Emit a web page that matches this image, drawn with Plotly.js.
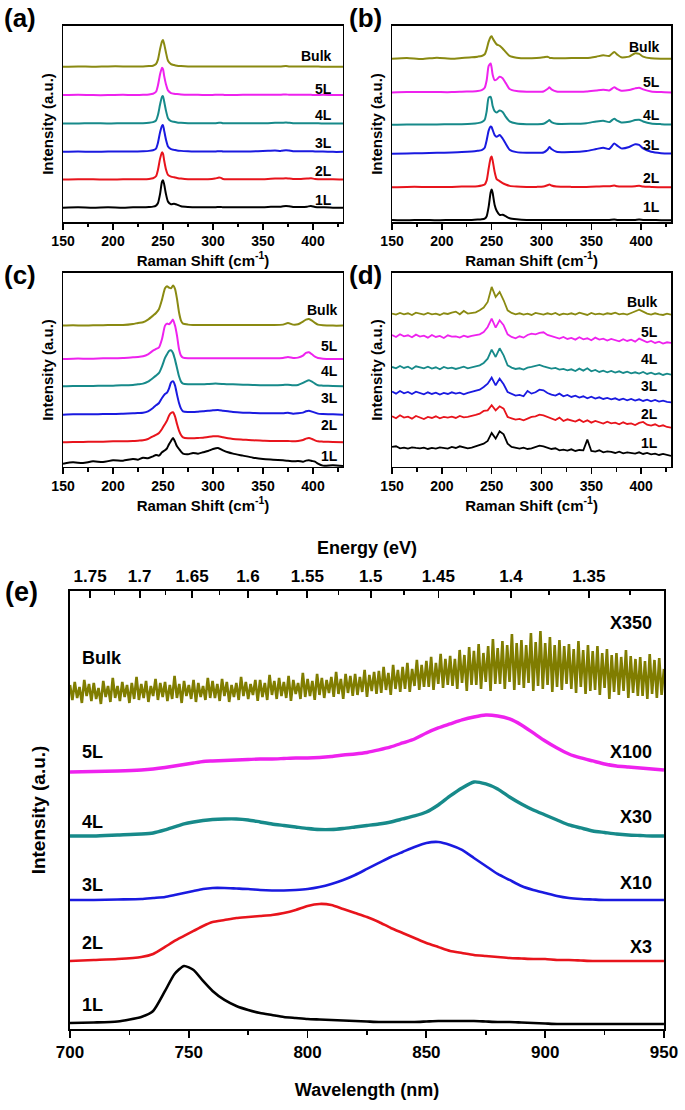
<!DOCTYPE html>
<html><head><meta charset="utf-8">
<script src="https://cdn.plot.ly/plotly-3.0.1.min.js"></script>
<style>html,body{margin:0;padding:0;background:#fff}</style>
</head><body>
<div id="chart" style="width:685px;height:1110px"></div>
<script>
// ---------- shared ----------
const layerNames = ['1L','2L','3L','4L','5L','Bulk'];
const layerColors = ['#000000','#e8141c','#1a1ae0','#178a8a','#ee22ee','#8a8a12'];

// ---------- (a) & (b): Raman shift grid ----------
const ramanShiftAB = [150,165,180,195,210,220,230,236,240,243,245,247,249,250,251,253,255,258,261,264,268,275,285,295,302,306,308,310,315,330,345,355,362,368,373,376,380,388,394,398,402,410,420,430];
// (a) relative intensities
const a_1L   = [0,1,0,1,0,1,1,2,3,6,14,40,78,82,72,40,18,10,12,9,4,2,1,1,1,2,2,1,1,1,1,2,3,3,5,4,2,2,3,5,2,1,0,0];
const a_2L   = [0,1,1,0,1,1,1,2,4,10,30,62,82,78,60,30,14,9,7,5,3,1,1,1,3,6,5,2,1,1,1,2,3,3,4,3,2,2,3,4,2,1,1,0];
const a_3L   = [0,1,0,1,1,1,2,3,5,10,28,58,78,80,66,36,16,8,6,4,3,2,1,1,1,2,2,1,1,1,2,3,4,3,5,4,2,2,2,2,1,1,0,0];
const a_4L   = [0,0,1,0,1,1,1,2,4,9,26,56,80,82,68,38,16,7,5,3,2,1,1,1,1,2,2,1,1,1,1,1,2,2,3,2,1,1,1,1,1,0,0,0];
const a_5L   = [0,1,0,0,1,0,1,2,4,10,30,62,82,78,60,32,14,6,4,3,2,1,1,0,1,1,1,1,0,1,1,1,1,1,2,1,1,1,1,1,0,1,0,0];
const a_Bulk = [0,1,0,1,1,1,1,2,3,8,22,52,76,80,70,42,18,8,5,3,2,1,1,1,1,1,1,1,1,1,1,1,1,1,2,1,1,1,1,1,1,0,0,0];
const a_offsets = [43,127,210,295,380,465];
const a_labelY  = [67,153,237,320,397,497];

// (b) relative intensities
const b_1L   = [1,0,1,0,1,1,1,2,3,5,12,40,82,90,80,45,28,16,16,12,6,3,1,1,1,1,1,1,1,1,1,1,1,1,2,1,1,1,1,2,1,1,0,0];
const b_2L   = [0,1,1,1,1,2,2,3,5,8,20,55,86,90,78,45,24,18,12,8,4,2,1,1,2,6,8,5,2,1,1,2,3,3,5,3,2,2,3,4,2,1,0,0];
const b_3L   = [0,1,2,3,4,5,7,9,11,18,40,68,80,78,70,55,50,55,45,30,12,5,3,3,4,12,20,14,6,5,8,14,18,14,30,24,16,20,28,26,16,6,2,1];
const b_4L   = [0,1,1,1,2,2,3,5,8,15,40,80,82,72,55,40,36,42,38,24,10,4,2,2,3,10,14,8,3,3,5,10,12,8,18,12,7,9,14,15,10,4,2,1];
const b_5L   = [0,1,1,1,1,2,3,4,7,14,36,78,85,72,52,36,38,46,42,28,10,4,2,2,3,10,15,9,3,2,3,6,8,6,15,10,5,7,12,14,9,3,1,0];
const b_Bulk = [2,4,1,5,2,4,6,8,10,15,30,52,66,68,62,52,44,40,32,22,10,5,3,4,6,8,5,4,3,4,4,8,12,10,22,14,6,8,18,16,8,3,2,2];
const b_offsets = [5,102,200,285,380,477];
const b_labelY  = [45,130,225,315,412,512];

// ---------- (c) ----------
const ramanShiftC = [150,160,170,180,190,200,210,220,225,230,235,240,243,246,249,252,254,256,258,260,262,264,266,268,270,275,280,285,290,295,300,305,310,315,320,330,340,350,360,370,375,380,385,390,393,396,399,402,405,410,420,430];
const c_1L   = [0,4,2,7,5,10,9,14,12,18,16,22,26,24,34,40,46,58,68,77,66,52,44,36,30,28,32,30,34,38,44,47,40,34,30,24,18,14,12,10,9,7,8,6,9,10,8,6,0,-6,-5,-7];
const c_2L   = [0,1,1,2,2,3,3,4,5,6,10,18,22,28,40,55,65,80,88,90,78,55,35,22,15,12,12,13,14,16,18,18,15,12,10,8,6,5,4,4,4,3,4,7,11,13,10,6,3,2,1,0];
const c_3L   = [0,1,1,1,2,2,3,4,5,6,10,20,28,35,50,62,66,78,96,100,88,60,35,18,10,8,8,9,10,12,13,14,12,10,8,6,5,4,4,4,6,3,4,6,10,12,9,6,3,2,1,0];
const c_4L   = [0,1,1,1,2,2,3,4,6,8,14,25,32,40,60,85,96,106,108,100,80,55,30,14,8,6,6,6,6,7,8,8,7,6,6,5,4,3,3,4,5,3,4,10,15,18,14,8,3,2,1,0];
const c_5L   = [0,1,1,1,2,2,3,5,6,8,14,25,30,35,60,100,106,104,110,118,100,70,30,10,4,2,2,2,2,2,2,2,2,2,2,2,2,2,2,3,6,3,4,10,18,20,14,7,3,1,0,0];
const c_Bulk = [0,1,0,1,1,2,2,5,8,10,18,30,38,50,78,112,118,114,112,120,110,80,40,15,6,3,2,2,2,2,2,2,2,2,2,2,2,2,2,3,8,3,4,12,18,20,15,8,3,1,0,0];
const c_offsets = [10,74,157,242,324,424];
const c_labelY  = [32,125,207,287,364,472];

// ---------- (d) absolute intensities ----------
const ramanShiftD = [150,154,158,162,166,170,174,178,182,186,190,194,198,202,206,210,214,218,222,226,230,234,238,242,246,250,254,258,262,266,270,274,278,282,286,290,294,298,302,306,310,314,318,322,326,330,334,338,342,346,350,354,358,362,366,370,374,378,382,386,390,394,398,402,406,410,414,418,422,426,430];
const d_1L   = [60,62,56,58,55,59,57,56,58,54,57,55,59,56,55,60,57,62,58,56,58,62,66,70,78,102,85,107,98,70,60,57,55,58,54,56,60,64,62,58,54,56,50,52,49,53,48,51,50,82,48,46,50,44,47,45,42,46,41,44,43,40,44,39,42,38,40,36,39,35,33];
const d_2L   = [152,146,155,148,151,145,153,149,144,150,147,152,146,150,148,151,147,153,149,150,152,156,160,168,170,185,170,182,175,150,146,142,144,140,145,150,152,157,155,150,146,141,148,138,143,139,136,142,135,140,133,138,134,130,136,131,133,128,134,129,131,126,132,135,127,124,128,122,125,120,118];
const d_3L   = [226,220,228,221,225,219,226,222,218,224,219,223,217,222,219,224,220,223,218,222,225,228,232,240,250,268,245,265,248,225,220,214,216,212,228,220,224,232,230,222,217,214,220,212,216,210,214,208,212,206,211,205,209,204,207,203,206,201,205,200,204,199,203,198,202,197,201,196,199,195,194];
const d_4L   = [300,296,303,297,301,294,302,298,296,301,295,299,293,300,296,298,294,297,301,296,299,302,305,312,325,352,330,356,335,305,298,294,296,292,298,300,303,306,302,298,295,297,292,294,290,293,288,295,289,296,287,291,285,289,284,288,283,287,282,286,281,284,280,285,279,283,278,281,276,280,277];
const d_5L   = [396,390,398,392,395,389,397,391,394,388,396,390,393,387,395,391,392,388,394,390,393,396,398,405,420,445,418,440,425,398,390,386,392,388,396,400,398,402,404,396,392,388,385,390,384,387,382,389,383,386,380,388,382,385,379,384,381,377,383,378,382,376,385,380,374,378,372,376,370,374,372];
const d_Bulk = [460,457,462,458,461,456,463,459,457,462,458,460,456,461,459,463,466,458,468,460,462,464,470,478,495,540,510,525,500,470,462,458,461,457,460,456,462,459,457,461,458,462,456,460,458,461,457,463,459,456,462,458,460,457,461,459,463,458,460,457,462,468,472,466,460,457,461,458,456,460,457];
const d_labelY = [72,160,242,324,404,494];

// ---------- (e) PL ----------
const wavelength = [700,710,720,730,735,740,744,748,752,756,760,765,770,775,780,785,790,795,800,805,810,815,820,825,830,835,840,845,850,855,860,865,870,875,880,885,890,895,900,905,910,915,920,925,930,935,940,945,950];
const pl_1L = [6,6.5,7.5,12,18,38,55,63,59,48,38,29,23,19,16,14,12,11,10,9.5,9,8.5,8,7.5,7,7,7,7,7.5,8,8,8,8,7.5,7,7,6.5,6,5.5,5,5,5,5,5,5,5,5,5,5];
const pl_2L = [68,69,70,72,75,82,88,93,98,103,107,109,111,112,113,114,116,119,123,125,124,120,116,112,107,101,96,91,86,82,78,76,74,73,72,71,70.5,70,70,69,69,68.5,68,68,68,68,68,68,68];
const pl_3L = [129,129,129.5,130,131,132,134,136,138,140,141,141,140.5,140,139,138.5,138.5,139,140,142,145,149,154,160,166,172,177,182,186,187,184,179,171,163,155,149,143,139,136,133,131,130,129.5,129,129,129,129,129,129];
const pl_4L = [193,193,194,195,196,199,202,205,207,208.5,209.5,210,210,209,207,205,203.5,202,200.5,199.5,199.5,200.5,202,203.5,205,207,210,213,217,224,233,241,247,245,240,232,225,219,214,209,204,201,198,196.5,195,194,193.5,193,193];
const pl_5L = [257,257.5,258,259,260,261.5,263,264.5,266,267.5,268,268.5,269,269.5,270,270,270.5,271,271,271.5,272.5,274,275,276.5,279,282,286,290,296,301,305,309,312,314,313,310,304,296,288,281,275,271,268,265,263,262,261,260,259];
// Bulk (x350): very noisy spectrum sampled every 1 nm
const bulkWavelength = [
  700,701,702,703,704,705,706,707,708,709, 710,711,712,713,714,715,716,717,718,719,
  720,721,722,723,724,725,726,727,728,729, 730,731,732,733,734,735,736,737,738,739,
  740,741,742,743,744,745,746,747,748,749, 750,751,752,753,754,755,756,757,758,759,
  760,761,762,763,764,765,766,767,768,769, 770,771,772,773,774,775,776,777,778,779,
  780,781,782,783,784,785,786,787,788,789, 790,791,792,793,794,795,796,797,798,799,
  800,801,802,803,804,805,806,807,808,809, 810,811,812,813,814,815,816,817,818,819,
  820,821,822,823,824,825,826,827,828,829, 830,831,832,833,834,835,836,837,838,839,
  840,841,842,843,844,845,846,847,848,849, 850,851,852,853,854,855,856,857,858,859,
  860,861,862,863,864,865,866,867,868,869, 870,871,872,873,874,875,876,877,878,879,
  880,881,882,883,884,885,886,887,888,889, 890,891,892,893,894,895,896,897,898,899,
  900,901,902,903,904,905,906,907,908,909, 910,911,912,913,914,915,916,917,918,919,
  920,921,922,923,924,925,926,927,928,929, 930,931,932,933,934,935,936,937,938,939,
  940,941,942,943,944,945,946,947,948,949, 950];
const pl_Bulk = [
  344,329,347,331,342,326,349,333,345,328, 346,330,341,325,348,332,343,327,351,331,
  343,328,347,332,344,326,346,330,352,329, 345,331,348,327,343,333,350,329,346,332,
  347,328,344,330,353,331,345,326,348,333, 344,330,349,327,346,332,343,329,351,331,
  348,331,345,328,350,333,347,327,344,332, 346,329,352,333,347,330,345,334,349,328,
  349,332,346,329,354,334,348,330,351,333, 347,331,353,328,349,335,346,330,356,332,
  350,333,348,329,355,334,351,331,349,336, 352,332,357,335,350,330,355,336,353,333,
  355,334,352,337,359,332,354,338,357,335, 358,336,362,339,356,334,364,340,359,337,
  362,340,366,337,360,343,369,339,364,342, 368,342,372,339,366,345,375,341,370,344,
  373,343,370,340,379,346,374,338,382,344, 378,344,385,340,376,347,383,338,390,345,
  381,345,388,340,384,347,395,339,386,344, 389,341,384,346,396,338,387,343,398,340,
  386,344,392,337,384,342,389,339,383,345, 385,340,380,336,388,342,379,335,384,338,
  378,339,383,334,376,341,380,330,374,337, 376,334,372,338,379,331,373,336,370,333,
  372,333,368,330,375,335,369,331,371,334, 360];
const pl_labelY = [24,86,144,207,277,371];
const pl_scaleLabels = ['', 'X3', 'X10', 'X30', 'X100', 'X350'];
const pl_scaleY = [null, 82, 146, 212, 277, 406];
const energyTicks = [1.75,1.7,1.65,1.6,1.55,1.5,1.45,1.4,1.35];
const energyMinor = [1.725,1.675,1.625,1.575,1.525,1.475,1.425,1.375,1.325];
const hc = 1239.84; // eV*nm

// ---------- build ----------
const traces = [];
function addStack(xs, series, offsets, xa, ya, widths, shape) {
  series.forEach((s, i) => traces.push({
    x: xs, y: offsets ? s.map(v => v + offsets[i]) : s, xaxis: xa, yaxis: ya,
    type: 'scatter', mode: 'lines',
    line: {color: layerColors[i], width: Array.isArray(widths) ? widths[i] : widths,
           shape: shape || 'linear', smoothing: 0.6},
    showlegend: false, hoverinfo: 'skip'
  }));
}
addStack(ramanShiftAB, [a_1L,a_2L,a_3L,a_4L,a_5L,a_Bulk], a_offsets, 'x', 'y', 2, 'spline');
addStack(ramanShiftAB, [b_1L,b_2L,b_3L,b_4L,b_5L,b_Bulk], b_offsets, 'x2', 'y2', 2, 'spline');
addStack(ramanShiftC,  [c_1L,c_2L,c_3L,c_4L,c_5L,c_Bulk], c_offsets, 'x3', 'y3', 2, 'spline');
addStack(ramanShiftD,  [d_1L,d_2L,d_3L,d_4L,d_5L,d_Bulk], null, 'x4', 'y4', 1.8);
traces.push({x: bulkWavelength, y: pl_Bulk, xaxis:'x5', yaxis:'y5', mode:'lines',
  line:{color:'#807d00', width:2.6}, showlegend:false, hoverinfo:'skip'});
addStack(wavelength, [pl_1L,pl_2L,pl_3L,pl_4L,pl_5L], null, 'x5', 'y5', [2.6,2.6,2.6,3.4,3.4], 'spline');
traces.push({x:[700], y:[null], xaxis:'x6', yaxis:'y5', mode:'lines', showlegend:false, hoverinfo:'skip'});

const FONT = 'Liberation Sans, Arial, sans-serif';
const bold = (s) => ({family: FONT, size: s, color: '#000', weight: 'bold'});

function ramanX(dom, anchor) {
  return {domain: dom, anchor: anchor, range: [150, 430], tick0: 150, dtick: 50,
    ticks: 'outside', ticklen: 6, tickwidth: 1.5, tickcolor: '#000',
    minor: {dtick: 25, tick0: 150, ticks: 'outside', ticklen: 3.5, tickwidth: 1.3, tickcolor: '#000'},
    showline: true, linewidth: 1.5, linecolor: '#000', mirror: true,
    showgrid: false, zeroline: false, tickfont: bold(14),
    title: {text: 'Raman Shift (cm<sup>-1</sup>)', font: bold(15), standoff: 2}};
}
function ramanY(dom, anchor, top) {
  return {domain: dom, anchor: anchor, range: [0, top], showticklabels: false, ticks: '',
    showline: true, linewidth: 1.5, linecolor: '#000', mirror: true, showgrid: false, zeroline: false,
    title: {text: 'Intensity (a.u.)', font: bold(15), standoff: 4}};
}
const xL = [0.0920, 0.5007], xR = [0.5723, 0.9796];
const yTop = [0.8, 0.9766], yMid = [0.5793, 0.7541];

const annotations = [];
function addLabels(xref, yref, xpos, ys) {
  ys.forEach((y, i) => annotations.push({xref, yref, x: xpos, y, text: layerNames[i],
    showarrow: false, xanchor: 'right', yanchor: 'middle', font: bold(14)}));
}
addLabels('x', 'y', 421, a_labelY);
addLabels('x2', 'y2', 421, b_labelY);
addLabels('x3', 'y3', 427, c_labelY);
addLabels('x4', 'y4', 419, d_labelY);
pl_labelY.forEach((y, i) => annotations.push({xref:'x5', yref:'y5', x: 704, y, text: layerNames[i],
  showarrow:false, xanchor:'left', yanchor:'middle', font: bold(18)}));
pl_scaleY.forEach((y, i) => { if (y !== null) annotations.push({xref:'x5', yref:'y5', x: 946, y, text: pl_scaleLabels[i],
  showarrow:false, xanchor:'right', yanchor:'middle', font: bold(18)}); });
[['(a)', 0.003, 0.9838], ['(b)', 0.506, 0.9838], ['(c)', 0.003, 0.7523], ['(d)', 0.506, 0.7523], ['(e)', 0.005, 0.4667]]
  .forEach(([t, x, y]) => annotations.push({xref:'paper', yref:'paper', x, y, text: t, showarrow:false,
    xanchor:'left', yanchor:'middle', font: bold(t === '(e)' ? 27 : 26)}));

const layout = {
  width: 685, height: 1110, margin: {l:0, r:0, t:0, b:0},
  paper_bgcolor: '#fff', plot_bgcolor: '#fff', showlegend: false,
  xaxis: ramanX(xL, 'y'), yaxis: ramanY(yTop, 'x', 587),
  xaxis2: ramanX(xR, 'y2'), yaxis2: ramanY(yTop, 'x2', 575),
  xaxis3: ramanX(xL, 'y3'), yaxis3: ramanY(yMid, 'x3', 582),
  xaxis4: ramanX(xR, 'y4'), yaxis4: ramanY(yMid, 'x4', 582),
  xaxis5: {domain: [0.1022, 0.9693], anchor: 'y5', range: [700, 950], tick0: 700, dtick: 50,
    ticks: 'outside', ticklen: 7, tickwidth: 1.8, tickcolor: '#000',
    minor: {dtick: 25, tick0: 700, ticks: 'outside', ticklen: 4, tickwidth: 1.5, tickcolor: '#000'},
    showline: true, linewidth: 1.8, linecolor: '#000', mirror: false, showgrid: false, zeroline: false,
    tickfont: bold(17), title: {text: 'Wavelength (nm)', font: bold(18), standoff: 22}},
  xaxis6: {overlaying: 'x5', anchor: 'y5', side: 'top', range: [700, 950],
    tickmode: 'array', tickvals: energyTicks.map(e => hc / e), ticktext: energyTicks.map(String),
    ticks: 'inside', ticklen: 7, tickwidth: 1.8, tickcolor: '#000',
    minor: {tickmode: 'array', tickvals: energyMinor.map(e => hc / e), ticks: 'inside', ticklen: 4, tickwidth: 1.5, tickcolor: '#000'},
    showline: true, linewidth: 1.8, linecolor: '#000', showgrid: false, zeroline: false,
    tickfont: bold(17), title: {text: 'Energy (eV)', font: bold(18), standoff: 8}},
  yaxis5: {domain: [0.0730, 0.4676], anchor: 'x5', range: [0, 438], showticklabels: false, ticks: '',
    showline: true, linewidth: 1.8, linecolor: '#000', mirror: true, showgrid: false, zeroline: false,
    title: {text: 'Intensity (a.u.)', font: bold(19), standoff: 17}},
  annotations
};
Plotly.newPlot('chart', traces, layout, {staticPlot: true, displayModeBar: false});
</script>
</body></html>
